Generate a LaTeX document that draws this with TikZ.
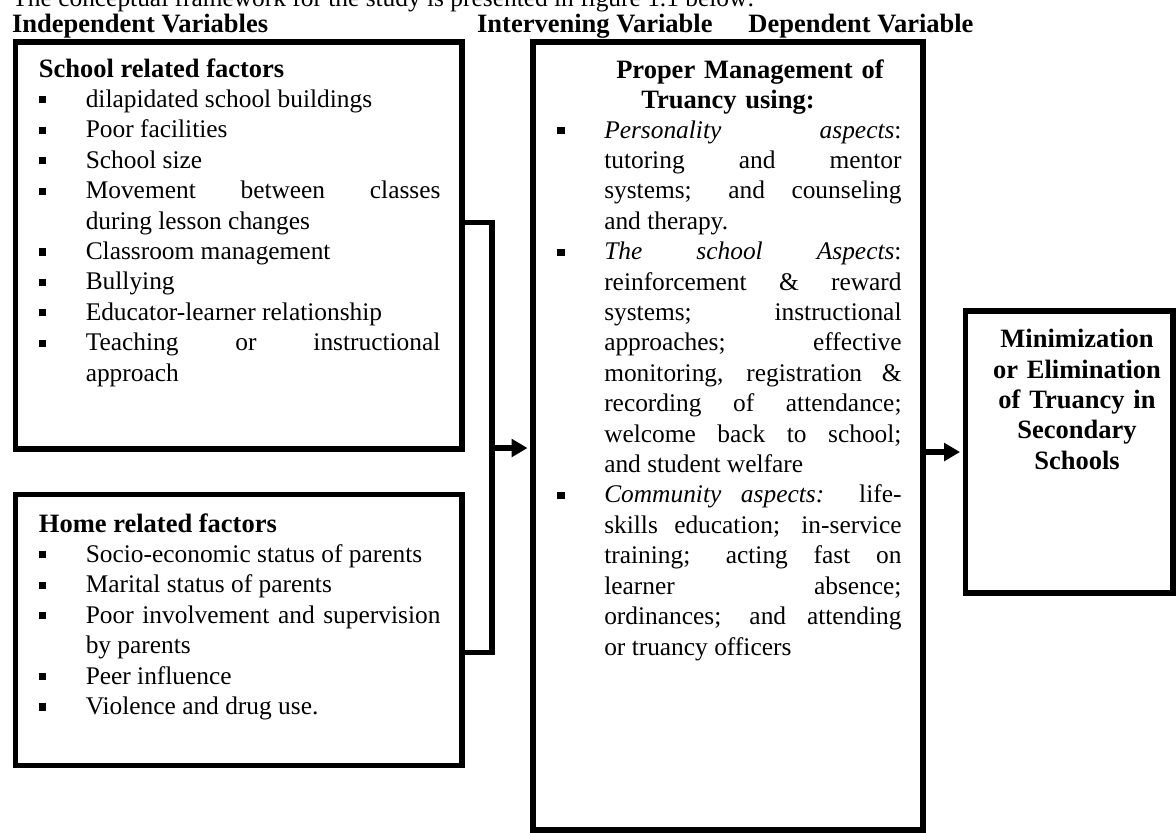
\documentclass[tikz,border=0pt]{standalone}
\usepackage{fontspec}
\setmainfont{Liberation Serif}
\usetikzlibrary{arrows.meta,fit}

\tolerance=10000
\hbadness=10000
\hyphenpenalty=10000
\exhyphenpenalty=10000

\newcommand{\sqbullet}{\raisebox{1.8pt}{\rule{3.2pt}{3.2pt}}}
\newcommand{\boxhead}[1]{{\fontsize{12}{13.77}\selectfont\bfseries #1}\par}
\newcommand{\factor}[1]{\hangindent=21.2pt\hangafter=1\noindent\makebox[21.2pt][l]{\sqbullet}#1\par}

\begin{document}
\begin{tikzpicture}[scale=0.15914]
    \tikzstyle{every node}+=[inner sep=0pt]
    \tikzstyle{factorbox}=[draw=black, line width=2.5pt]
    \tikzstyle{link}=[black, line width=2.5pt]
    \tikzstyle{arrowed}=[-{Triangle[length=7.2pt,width=7.9pt]}, shorten >=1.25pt]
    \tikzstyle{listtext}=[font=\fontsize{11.5}{13.77}\selectfont, anchor=base west, align=justify]
    \tikzstyle{headtext}=[font=\fontsize{12}{13.77}\selectfont\bfseries, anchor=base west]
    \useasboundingbox (0,0) rectangle (117.6,-83.2);
    \clip (0,0) rectangle (117.6,-83.2);
    \node [listtext, align=left] (intro) at (1.2,-0.6) {The conceptual framework for the study is presented in figure 1.1 below:};
    \node [headtext] (indep) at (1.17,-3.2) {Independent Variables};
    \node [headtext] (interv) at (47.67,-3.2) {Intervening Variable};
    \node [headtext] (dep) at (74.8,-3.2) {Dependent Variable};
    \node [factorbox, fit={(1.55,-4.2) (46.2,-44.9)}] (school) {};
    \node [factorbox, fit={(1.55,-49.45) (46.2,-76.55)}] (home) {};
    \node [factorbox, fit={(53.3,-4.2) (92.3,-83.0)}] (manage) {};
    \node [factorbox, fit={(96.55,-31.1) (117.3,-59.3)}] (outcome) {};
    \node [listtext, text width=181.8pt] (school-list) at (3.85,-7.7) {%
        \boxhead{School related factors}
        \factor{dilapidated school buildings}
        \factor{Poor facilities}
        \factor{School size}
        \factor{Movement between classes \linebreak during lesson changes}
        \factor{Classroom management}
        \factor{Bullying}
        \factor{Educator-learner relationship}
        \factor{Teaching or instructional \linebreak approach}};
    \node [listtext, text width=181.8pt] (home-list) at (3.85,-53.2) {%
        \boxhead{Home related factors}
        \factor{Socio-economic status of parents}
        \factor{Marital status of parents}
        \factor{Poor involvement and supervision \linebreak by parents}
        \factor{Peer influence}
        \factor{Violence and drug use.}};
    \node [headtext, anchor=base, text width=170pt, align=center] (manage-title) at (72.8,-7.8)
        {\hspace*{19.9pt}Proper Management of\\ Truancy using:};
    \node [listtext, text width=155.8pt] (manage-list) at (55.7,-13.8) {%
        \factor{\textit{Personality aspects}: \linebreak tutoring and mentor \linebreak systems; and counseling \linebreak and therapy.}
        \factor{\textit{The school Aspects}: \linebreak reinforcement \& reward \linebreak systems; instructional \linebreak approaches; effective \linebreak monitoring, registration \& \linebreak recording of attendance; \linebreak welcome back to school; \linebreak and student welfare}
        \factor{\textit{Community aspects:} life-\linebreak{}skills education; in-service \linebreak training; acting fast on \linebreak learner absence; \linebreak ordinances; and attending \linebreak or truancy officers}};
    \node [headtext, anchor=base, text width=95pt, align=center] (outcome-text) at (107.7,-34.77)
        {Minimization\\ or Elimination\\ of Truancy in\\ Secondary\\ Schools};
    \coordinate (sch-out) at (46.2,-22.25);
    \coordinate (hom-out) at (46.2,-65.25);
    \coordinate (bend) at (49.2,-44.8);
    \draw [link] (sch-out) -| (bend) |- (hom-out);
    \draw [link, arrowed] (bend) -- (bend -| manage.west);
    \draw [link, arrowed] (manage.east |- outcome.west) -- (outcome.west);
\end{tikzpicture}
\end{document}
